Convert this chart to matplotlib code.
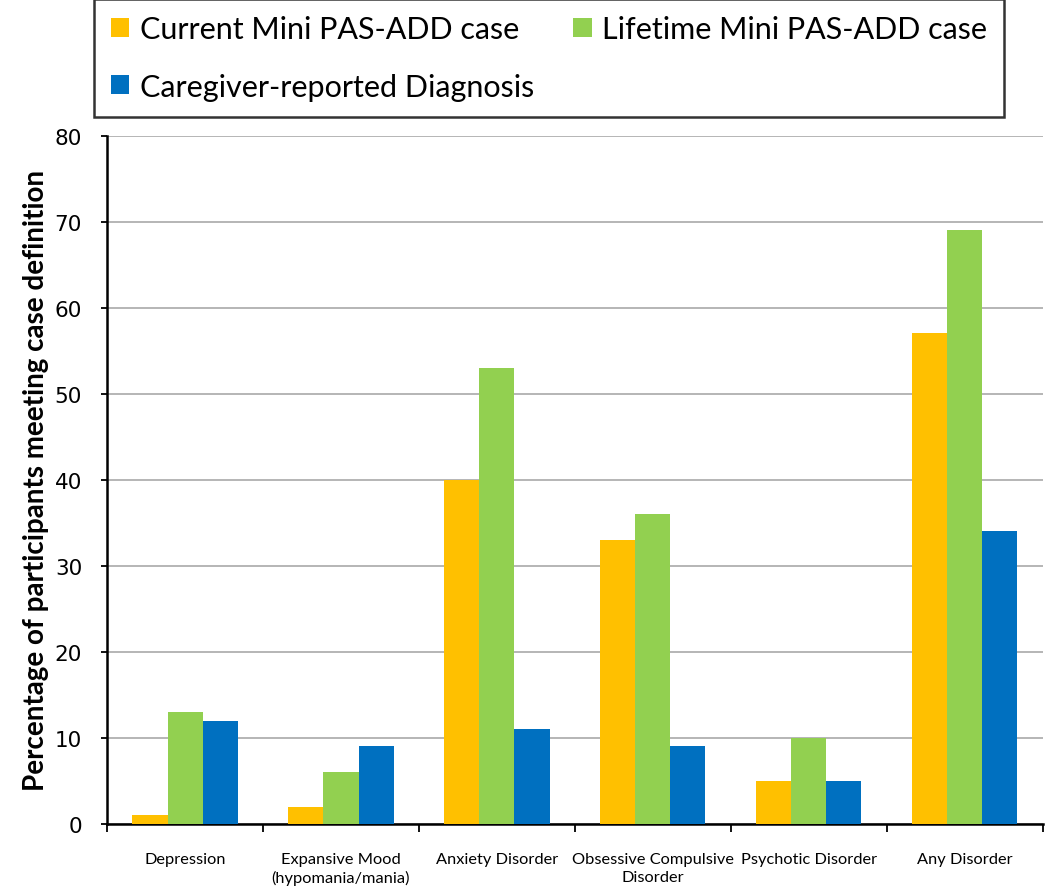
import numpy as np
import matplotlib.pyplot as plt
from matplotlib.ticker import FixedLocator, NullFormatter

# данные
categories = ['Depression', 'Expansive Mood\n(hypomania/mania)', 'Anxiety Disorder',
              'Obsessive Compulsive\nDisorder', 'Psychotic Disorder', 'Any Disorder']
series_names = ['Current Mini PAS-ADD case', 'Lifetime Mini PAS-ADD case',
                'Caregiver-reported Diagnosis']
current = [1, 2, 40, 33, 5, 57]
lifetime = [13, 6, 53, 36, 10, 69]
caregiver = [12, 9, 11, 9, 5, 34]
colors = ['#FFC000', '#92D050', '#0070C0']
y_ticks = [0, 10, 20, 30, 40, 50, 60, 70, 80]

plt.rcParams['font.family'] = ['Lato', 'DejaVu Sans']

fig = plt.figure(figsize=(10.5, 8.87), dpi=100)
ax = fig.add_axes([0.102, 0.070, 0.891, 0.776])

x = np.arange(len(categories))
w = 0.225
bars = []
for k, (vals, name) in enumerate(zip([current, lifetime, caregiver], series_names)):
    b = ax.bar(x + (k - 1) * w, vals, width=w, color=colors[k], label=name, zorder=3)
    bars.append(b)

ax.set_xlim(-0.5, len(categories) - 0.5)
ax.set_ylim(0, 80)
ax.set_yticks(y_ticks)
ax.set_yticklabels([str(v) for v in y_ticks], family='DejaVu Sans', fontsize=15.5)
ax.yaxis.grid(True, color='#B0B0B0', linewidth=1.3, zorder=0)
ax.set_axisbelow(True)

# разделители категорий и подписи
ax.xaxis.set_major_locator(FixedLocator(np.arange(-0.5, len(categories) + 0.5, 1)))
ax.xaxis.set_major_formatter(NullFormatter())
ax.xaxis.set_minor_locator(FixedLocator(x))
ax.set_xticklabels(categories, minor=True, fontsize=11.8, linespacing=1.35)
ax.tick_params(axis='x', which='major', length=6, width=1.3, direction='out')
ax.tick_params(axis='x', which='minor', length=0, pad=20)
ax.tick_params(axis='y', length=4, width=1.3, direction='out', pad=14)

for s in ['top', 'right']:
    ax.spines[s].set_visible(False)
for s in ['left', 'bottom']:
    ax.spines[s].set_linewidth(1.8)

ax.set_ylabel('Percentage of participants meeting case definition',
              fontsize=20, fontweight='bold', labelpad=4)

# порядок по строкам: Current, Lifetime / Caregiver
order = [0, 2, 1]
leg = fig.legend([bars[i] for i in order], [series_names[i] for i in order],
                 loc='center', bbox_to_anchor=(94 / 1050, 1 - 115 / 887, 910 / 1050, 112 / 887),
                 mode='expand', ncol=2, fontsize=22, frameon=True, fancybox=False,
                 handlelength=0.6, handleheight=0.6, handletextpad=0.35,
                 borderaxespad=0, labelspacing=0.95, borderpad=0.55)
leg.get_frame().set_edgecolor('black')
leg.get_frame().set_linewidth(1.8)

fig.savefig('out.png', dpi=100)
